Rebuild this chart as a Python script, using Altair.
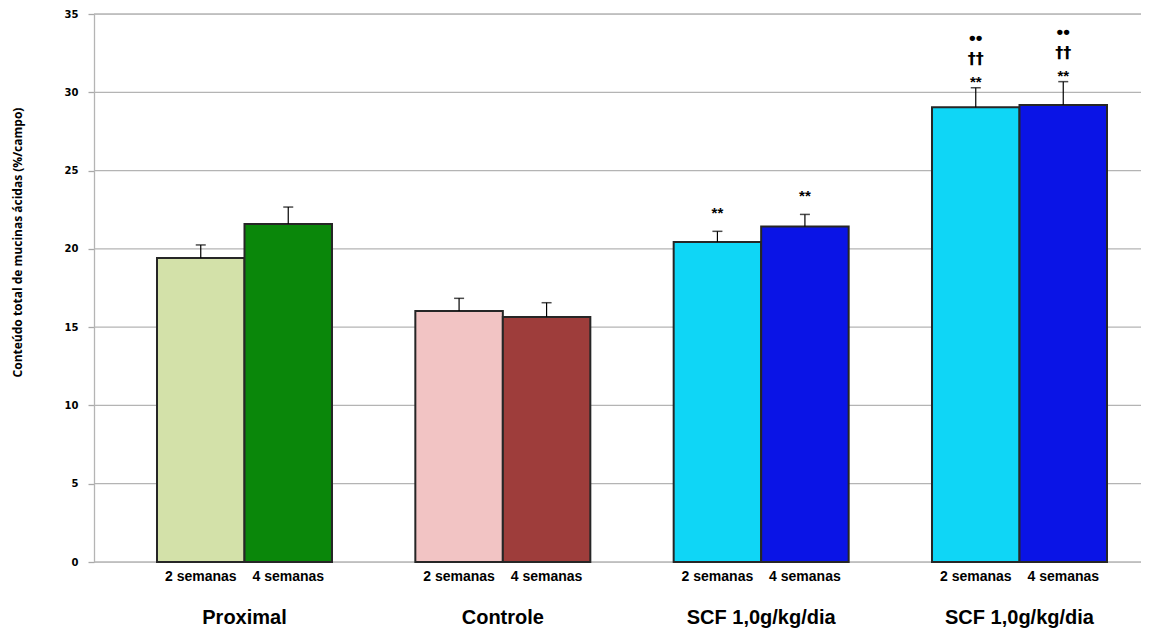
import altair as alt
import pandas as pd

grupos = ["g1", "g2", "g3", "g4"]
grupo_rotulos = ["Proximal", "Controle", "SCF 1,0g/kg/dia", "SCF 1,0g/kg/dia"]
semanas = ["2 semanas", "4 semanas"]
medias_2 = [19.42, 16.03, 20.44, 29.04]
medias_4 = [21.59, 15.65, 21.42, 29.19]
epm_2 = [0.83, 0.81, 0.68, 1.25]
epm_4 = [1.08, 0.91, 0.78, 1.49]
asteriscos_2 = ["", "", "**", "**"]
asteriscos_4 = ["", "", "**", "**"]
adagas_2 = ["", "", "", "††"]
adagas_4 = ["", "", "", "††"]
pontos_2 = ["", "", "", "••"]
pontos_4 = ["", "", "", "••"]
y_ticks = [0, 5, 10, 15, 20, 25, 30, 35]
cores = ["#d3e1a9", "#0a870a", "#f2c4c4", "#9e3d3b", "#0fd6f6", "#0a14e6", "#0fd6f6", "#0a14e6"]

rows = []
for i, g in enumerate(grupos):
    for s, med, e, a, d, p in [
        (semanas[0], medias_2[i], epm_2[i], asteriscos_2[i], adagas_2[i], pontos_2[i]),
        (semanas[1], medias_4[i], epm_4[i], asteriscos_4[i], adagas_4[i], pontos_4[i]),
    ]:
        rows.append({"grupo": g, "rotulo": grupo_rotulos[i], "semana": s, "media": med,
                     "epm": e, "ast": a, "adaga": d, "ponto": p, "id": g + "|" + s})
df = pd.DataFrame(rows)
ids = list(df["id"])
grid_df = pd.DataFrame({"v": y_ticks})

x_enc = alt.X("grupo:N", title=None, sort=grupos,
              scale=alt.Scale(domain=grupos, range=[63, 1013], paddingInner=0.3226, paddingOuter=0),
              axis=alt.Axis(labels=False, ticks=False, domain=False, grid=False))
xo_enc = alt.XOffset("semana:N", sort=semanas, scale=alt.Scale(domain=semanas, paddingInner=0, paddingOuter=0))
y_scale = alt.Scale(domain=[0, 35], nice=False, zero=True)

grid = alt.Chart(grid_df).mark_rule(color="#b4b4b4", strokeWidth=1.3).encode(
    y=alt.Y("v:Q", scale=y_scale), x=alt.value(0), x2=alt.value(1047))

base = alt.Chart(df).transform_calculate(topo="datum.media + datum.epm")

bars = base.mark_bar(stroke="#262626", strokeWidth=2).encode(
    x=x_enc, xOffset=xo_enc,
    y=alt.Y("media:Q", scale=y_scale,
            axis=alt.Axis(values=y_ticks, title="Conteúdo total de mucinas ácidas (%/campo)",
                          grid=False,
                          domainColor="#b4b4b4", domainWidth=1.3,
                          tickColor="#a8a8a8", tickSize=6, tickWidth=1.3,
                          labelFont="DejaVu Sans", labelFontWeight="bold", labelFontSize=10,
                          labelColor="#000000", labelPadding=10,
                          titleFont="Open Sans", titleFontWeight="bold", titleFontSize=12,
                          titleColor="#000000", titleAngle=270, titleX=-77, titleY=228,
                          titleAlign="center", titleBaseline="middle")),
    color=alt.Color("id:N", scale=alt.Scale(domain=ids, range=cores), legend=None),
)

err_rule = base.mark_rule(color="#000000", strokeWidth=1.2).encode(
    x=x_enc, xOffset=xo_enc, y=alt.Y("media:Q", scale=y_scale), y2="topo:Q")
err_cap = base.mark_tick(color="#000000", size=10, thickness=1.5).encode(
    x=x_enc, xOffset=xo_enc, y=alt.Y("topo:Q", scale=y_scale))

txt_common = dict(fontWeight="bold", color="#000000", align="center", baseline="middle")
ast3 = base.transform_filter("datum.grupo == 'g3'").mark_text(font="Liberation Sans", fontSize=15, dy=-18, **txt_common).encode(
    x=x_enc, xOffset=xo_enc, y=alt.Y("topo:Q", scale=y_scale), text="ast:N")
ast4 = base.transform_filter("datum.grupo == 'g4'").mark_text(font="Liberation Sans", fontSize=15, dy=-6, **txt_common).encode(
    x=x_enc, xOffset=xo_enc, y=alt.Y("topo:Q", scale=y_scale), text="ast:N")
adg = base.mark_text(font="DejaVu Sans", fontSize=16, dy=-29, **txt_common).encode(
    x=x_enc, xOffset=xo_enc, y=alt.Y("topo:Q", scale=y_scale), text="adaga:N")
pto = base.mark_text(font="Liberation Sans", fontSize=19, dy=-50, **txt_common).encode(
    x=x_enc, xOffset=xo_enc, y=alt.Y("topo:Q", scale=y_scale), text="ponto:N")

sem_lbl = base.mark_text(font="Liberation Sans", fontSize=14, **txt_common).encode(
    x=x_enc, xOffset=xo_enc, y=alt.value(563), text="semana:N")
grp_lbl = alt.Chart(df).transform_filter("datum.semana == '2 semanas'").mark_text(
    font="Liberation Sans", fontSize=20, **txt_common).encode(
    x=x_enc, y=alt.value(604), text="rotulo:N")

chart = alt.layer(grid, bars, err_rule, err_cap, ast3, ast4, adg, pto, sem_lbl, grp_lbl).properties(
    width=1047, height=548,
    autosize=alt.AutoSizeParams(type="none"),
    padding={"left": 86, "top": 6, "right": 0, "bottom": 69},
).configure_view(strokeWidth=0).configure(background="#ffffff")

chart.save("out.html", embed_options={"renderer": "svg", "actions": False})
